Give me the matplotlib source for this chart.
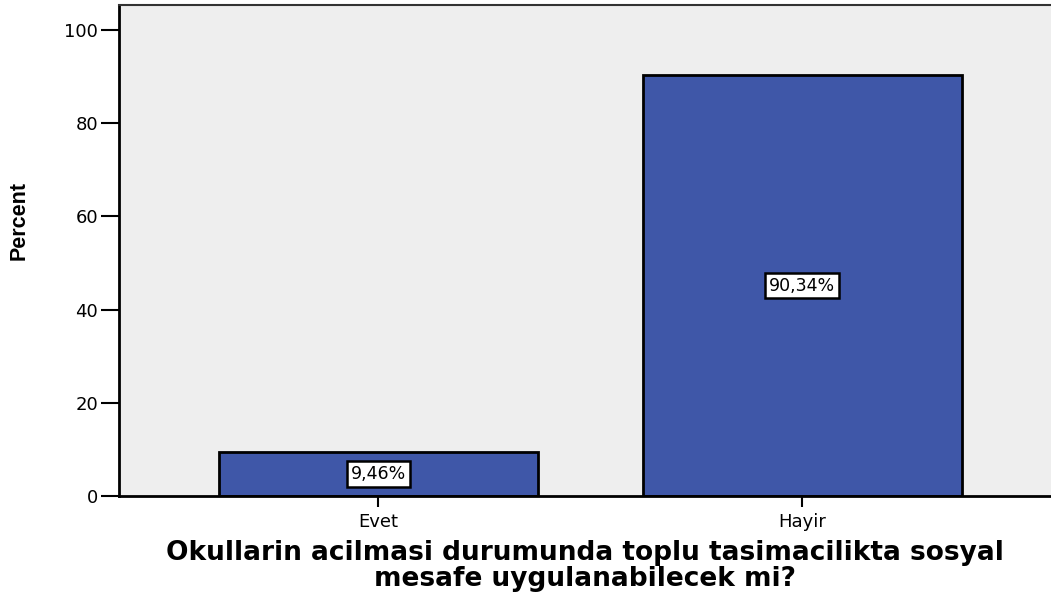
import numpy as np
import matplotlib.pyplot as plt

categories = ['Evet', 'Hayir']
percents = [9.46, 90.34]
bar_labels = ['9,46%', '90,34%']
yticks = [0, 20, 40, 60, 80, 100]

plt.rcParams['font.family'] = ['DejaVu Sans']

fig = plt.figure(figsize=(10.51, 5.93), dpi=100)
ax = fig.add_axes([119/1051, 1 - 496/593, 1 - 119/1051, (496 - 5)/593])
ax.set_facecolor('#eeeeee')

x = np.arange(len(categories))
ax.bar(x, percents, width=0.752, color='#3f57a8', edgecolor='black', linewidth=2, zorder=2)

for xi, p, lab in zip(x, percents, bar_labels):
    ax.text(xi, p / 2, lab, ha='center', va='center', fontsize=12.5, zorder=3,
            bbox=dict(boxstyle='square,pad=0.22', facecolor='white', edgecolor='black', linewidth=1.8))

ax.set_xlim(-0.611, 1.587)
ax.set_ylim(0, 105.4)
ax.set_yticks(yticks)
ax.set_xticks(x)
ax.set_xticklabels(categories)
ax.tick_params(axis='y', length=13, width=1.5, labelsize=13, pad=2)
ax.tick_params(axis='x', length=8, width=1.5, labelsize=13, pad=4)

for s in ['left', 'bottom']:
    ax.spines[s].set_linewidth(2)
ax.spines['top'].set_linewidth(1.5)
ax.spines['top'].set_color('#333333')
ax.spines['right'].set_visible(False)

ax.set_ylabel('Percent', fontsize=15.5, fontweight='bold', family=['Liberation Sans'])
ax.yaxis.set_label_coords(-0.096, 0.562)
ax.set_xlabel('Okullarin acilmasi durumunda toplu tasimacilikta sosyal\nmesafe uygulanabilecek mi?',
              fontsize=19, fontweight='bold', labelpad=7, linespacing=1.0)

fig.savefig('out.png', dpi=100)
